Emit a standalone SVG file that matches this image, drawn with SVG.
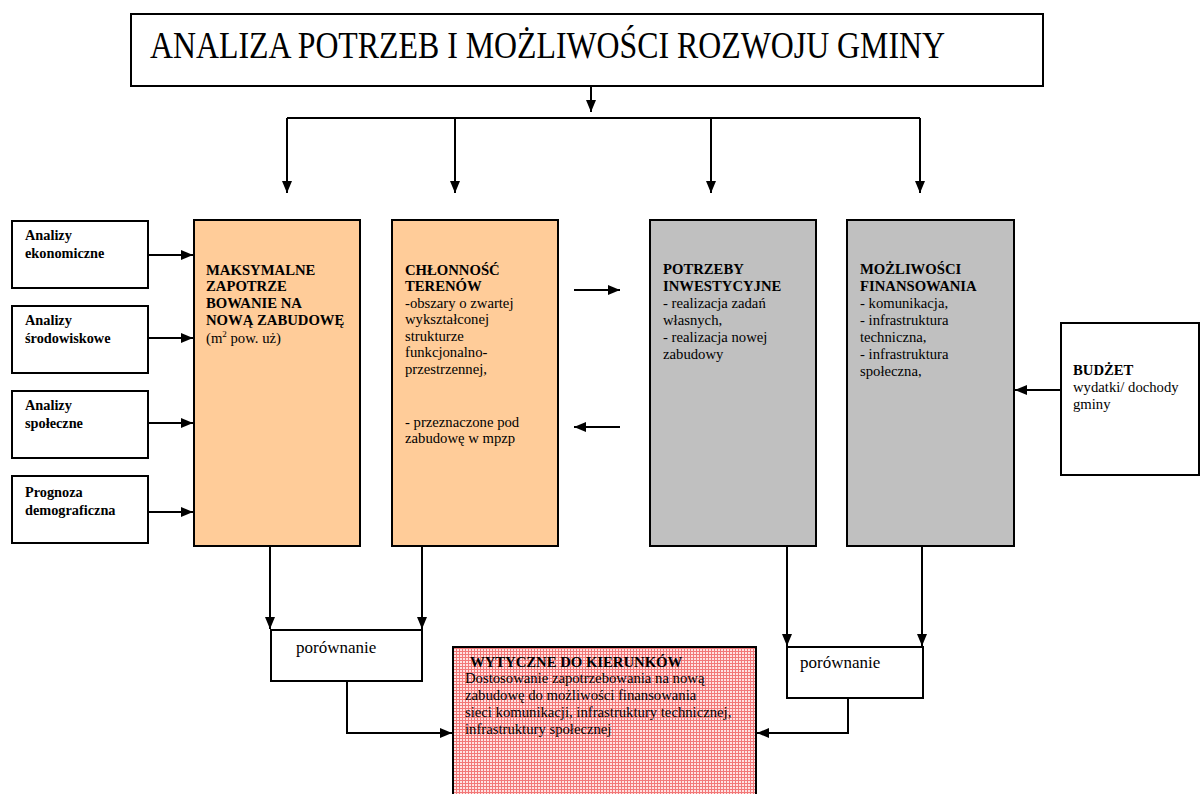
<svg xmlns="http://www.w3.org/2000/svg" width="1200" height="794" viewBox="0 0 1200 794">
<defs>
<marker id="ah" viewBox="0 0 12 10" refX="12" refY="5" markerWidth="12" markerHeight="10" markerUnits="userSpaceOnUse" orient="auto">
<path d="M0,0 L12,5 L0,10 Z" fill="#000"/>
</marker>
<pattern id="grid" width="3" height="3" patternUnits="userSpaceOnUse">
<rect width="3" height="3" fill="#ffe2e2"/>
<path d="M0,0.5 H3 M0.5,0 V3" stroke="#f27878" stroke-width="1"/>
</pattern>
<style>
.box{stroke:#000;stroke-width:2;}
.w{fill:#fff;}
.o{fill:#ffcc99;}
.g{fill:#c0c0c0;}
.t{font-family:"Liberation Serif","Times New Roman",serif;fill:#000;}
.b{font-weight:bold;}
.s13{font-size:14.7px;}
.s12{font-size:14.3px;}
.c{stroke:#000;stroke-width:2;fill:none;}
.a{marker-end:url(#ah);}
</style>
</defs>
<rect width="1200" height="794" fill="#fff"/>

<g id="title">
<rect class="box w" x="131" y="14" width="912" height="72"/>
<text class="t" x="150" y="58" font-size="38" textLength="795" lengthAdjust="spacingAndGlyphs">ANALIZA POTRZEB I MOŻLIWOŚCI ROZWOJU GMINY</text>
</g>

<g id="in1">
<rect class="box w" x="12" y="221" width="136" height="67"/>
<text class="t b s12" x="25" y="240">Analizy</text>
<text class="t b s12" x="25" y="258">ekonomiczne</text>
</g>
<g id="in2">
<rect class="box w" x="12" y="306" width="136" height="67"/>
<text class="t b s12" x="25" y="325">Analizy</text>
<text class="t b s12" x="25" y="343">środowiskowe</text>
</g>
<g id="in3">
<rect class="box w" x="12" y="391" width="136" height="67"/>
<text class="t b s12" x="25" y="410">Analizy</text>
<text class="t b s12" x="25" y="428">społeczne</text>
</g>
<g id="in4">
<rect class="box w" x="12" y="476" width="136" height="67"/>
<text class="t b s12" x="25" y="497">Prognoza</text>
<text class="t b s12" x="25" y="515">demograficzna</text>
</g>

<g id="maks">
<rect class="box o" x="194" y="220" width="166" height="326"/>
<text class="t b s13" x="206" y="275">MAKSYMALNE</text>
<text class="t b s13" x="206" y="291">ZAPOTRZE</text>
<text class="t b s13" x="206" y="308">BOWANIE NA</text>
<text class="t b s13" x="206" y="325">NOWĄ ZABUDOWĘ</text>
<text class="t s13" x="206" y="343">(m<tspan font-size="9" dy="-6">2</tspan><tspan dy="6"> pow. uż)</tspan></text>
</g>

<g id="chlon">
<rect class="box o" x="392" y="220" width="166" height="326"/>
<text class="t b s13" x="405" y="275">CHŁONNOŚĆ</text>
<text class="t b s13" x="405" y="291">TERENÓW</text>
<text class="t s13" x="405" y="308">-obszary o zwartej</text>
<text class="t s13" x="405" y="324">wykształconej</text>
<text class="t s13" x="405" y="341">strukturze</text>
<text class="t s13" x="405" y="357">funkcjonalno-</text>
<text class="t s13" x="405" y="374">przestrzennej,</text>
<text class="t s13" x="405" y="427">- przeznaczone pod</text>
<text class="t s13" x="405" y="443">zabudowę w mpzp</text>
</g>

<g id="potrz">
<rect class="box g" x="650" y="220" width="166" height="326"/>
<text class="t b s13" x="663" y="274">POTRZEBY</text>
<text class="t b s13" x="663" y="291">INWESTYCYJNE</text>
<text class="t s13" x="663" y="308">- realizacja zadań</text>
<text class="t s13" x="663" y="325">własnych,</text>
<text class="t s13" x="663" y="342">- realizacja nowej</text>
<text class="t s13" x="663" y="359">zabudowy</text>
</g>

<g id="mozl">
<rect class="box g" x="847" y="220" width="167" height="326"/>
<text class="t b s13" x="860" y="274">MOŻLIWOŚCI</text>
<text class="t b s13" x="860" y="291">FINANSOWANIA</text>
<text class="t s13" x="860" y="308">- komunikacja,</text>
<text class="t s13" x="860" y="325">- infrastruktura</text>
<text class="t s13" x="860" y="342">techniczna,</text>
<text class="t s13" x="860" y="359">- infrastruktura</text>
<text class="t s13" x="860" y="376">społeczna,</text>
</g>

<g id="budzet">
<rect class="box w" x="1061" y="323" width="138" height="152"/>
<text class="t b s13" x="1073" y="375">BUDŻET</text>
<text class="t s13" x="1073" y="392">wydatki/ dochody</text>
<text class="t s13" x="1073" y="409">gminy</text>
</g>

<g id="por1">
<rect class="box w" x="271" y="630" width="151" height="51"/>
<text class="t" x="296" y="653" font-size="17">porównanie</text>
</g>

<g id="por2">
<rect class="box w" x="787" y="647" width="136" height="51"/>
<text class="t" x="800" y="668" font-size="17">porównanie</text>
</g>

<g id="wytyczne">
<rect class="box" fill="url(#grid)" x="453" y="647" width="303" height="160"/>
<text class="t b s13" x="470" y="667">WYTYCZNE DO KIERUNKÓW</text>
<text class="t s13" x="465" y="683">Dostosowanie zapotrzebowania na nową</text>
<text class="t s13" x="465" y="700">zabudowę do możliwości finansowania</text>
<text class="t s13" x="465" y="717">sieci komunikacji,  infrastruktury technicznej,</text>
<text class="t s13" x="465" y="734">infrastruktury społecznej</text>
</g>

<g id="connectors">
<path class="c a" d="M591,86 V112"/>
<path class="c" d="M287,118 H920"/>
<path class="c a" d="M287,118 V193"/>
<path class="c a" d="M455,118 V193"/>
<path class="c a" d="M711,118 V193"/>
<path class="c a" d="M920,118 V193"/>
<path class="c a" d="M148,255 H193"/>
<path class="c a" d="M148,338 H193"/>
<path class="c a" d="M148,423 H193"/>
<path class="c a" d="M148,512 H193"/>
<path class="c a" d="M574,290 H620"/>
<path class="c a" d="M620,427 H574"/>
<path class="c a" d="M1060,390 H1015"/>
<path class="c a" d="M270,546 V629"/>
<path class="c a" d="M422,546 V629"/>
<path class="c a" d="M787,546 V646"/>
<path class="c a" d="M922,546 V646"/>
<path class="c a" d="M347,681 V733 H452"/>
<path class="c a" d="M848,698 V733 H757"/>
</g>
</svg>
